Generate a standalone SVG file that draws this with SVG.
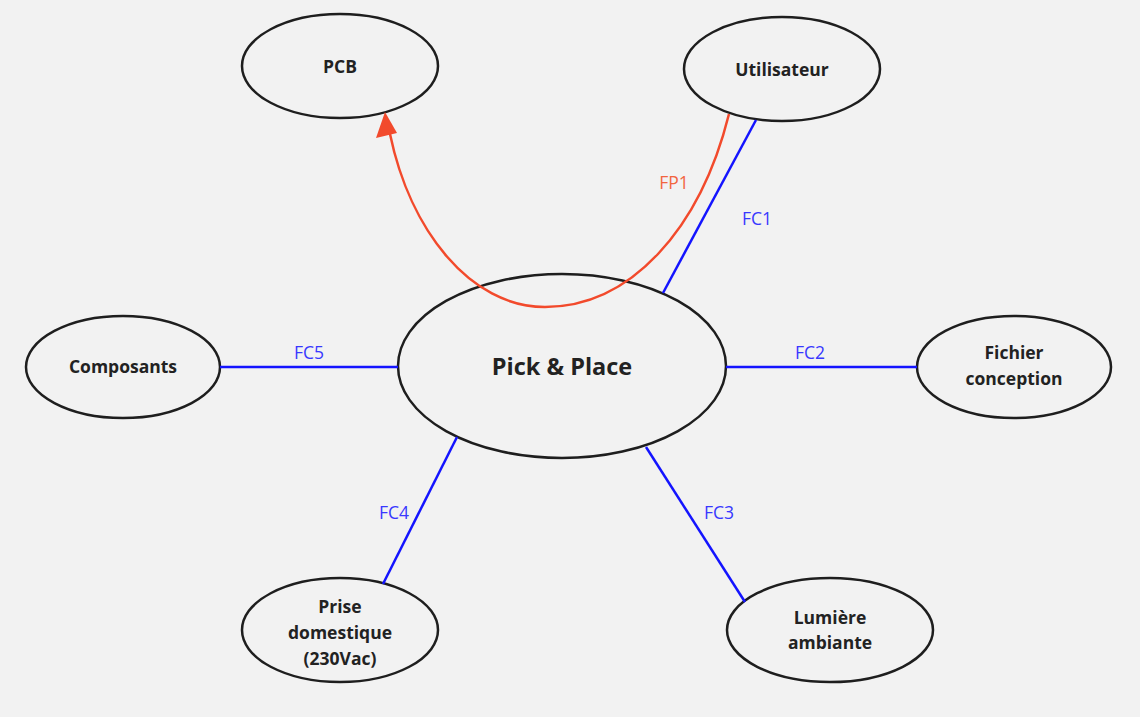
<svg xmlns="http://www.w3.org/2000/svg" width="1140" height="717" viewBox="0 0 1140 717">
<style>
.node ellipse{fill:#f2f2f2;stroke:#1e1e1e;stroke-width:2.5}
.node text{font-family:"Open Sans","Noto Sans",sans-serif;font-weight:bold;font-size:17.5px;fill:#222;text-anchor:middle}
.fc{stroke:#1414ff;stroke-width:2.5;fill:none}
.lbl{font-family:"Open Sans","Noto Sans",sans-serif;font-size:17.5px;fill:#3838ff;text-anchor:middle}
.fp{stroke:#f24a2c;stroke-width:2.5;fill:none}
</style>
<rect width="1140" height="717" fill="#f2f2f2"/>
<g id="pcb" class="node"><ellipse cx="340" cy="66" rx="98" ry="52"/><text x="340" y="73">PCB</text></g>
<g id="utilisateur" class="node"><ellipse cx="782" cy="69" rx="98" ry="52"/><text x="782" y="76">Utilisateur</text></g>
<g id="pickplace" class="node"><ellipse cx="562" cy="366" rx="164" ry="92"/><text x="562" y="375" style="font-size:23.5px">Pick &amp; Place</text></g>
<g id="composants" class="node"><ellipse cx="123" cy="367" rx="97" ry="51"/><text x="123" y="373">Composants</text></g>
<g id="fichier" class="node"><ellipse cx="1014" cy="367" rx="97" ry="51"/><text x="1014" y="359">Fichier</text><text x="1014" y="385">conception</text></g>
<g id="prise" class="node"><ellipse cx="340" cy="630" rx="98" ry="52"/><text x="340" y="613">Prise</text><text x="340" y="639">domestique</text><text x="340" y="665">(230Vac)</text></g>
<g id="lumiere" class="node"><ellipse cx="830" cy="630" rx="103" ry="52"/><text x="830" y="624">Lumière</text><text x="830" y="649">ambiante</text></g>
<g id="connectors">
<line class="fc" x1="663" y1="293" x2="756" y2="120"/>
<line class="fc" x1="726" y1="367" x2="917" y2="367"/>
<line class="fc" x1="220" y1="367" x2="398" y2="367"/>
<line class="fc" x1="646" y1="447" x2="745" y2="602"/>
<line class="fc" x1="457" y1="437" x2="383" y2="584"/>
<path class="fp" d="M729 114 C700 230 630 307 545 307 C470 307 410 230 390 134"/>
<polygon points="385,112 376,138 397,133" fill="#f24a2c"/>
<text class="lbl" x="757" y="225">FC1</text>
<text class="lbl" x="810" y="359">FC2</text>
<text class="lbl" x="309" y="359">FC5</text>
<text class="lbl" x="719" y="519">FC3</text>
<text class="lbl" x="394" y="519">FC4</text>
<text class="lbl" x="674" y="189" style="fill:#f2653f">FP1</text>
</g>
</svg>
